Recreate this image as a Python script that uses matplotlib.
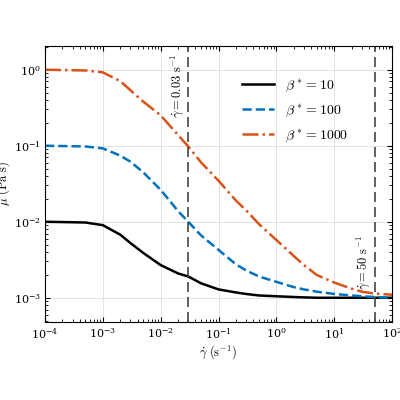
import numpy as np
import matplotlib.pyplot as plt

plt.rcParams['mathtext.fontset'] = 'cm'
plt.rcParams['font.family'] = 'serif'
plt.rcParams['font.serif'] = ['DejaVu Serif']

# shear rate samples and log10 viscosity
gamma = [1e-4, 5e-4, 1e-3, 2e-3, 3e-3, 5e-3, 1e-2, 2e-2, 3e-2, 5e-2, 0.1, 0.2,
         0.3, 0.5, 1, 2, 3, 5, 10, 20, 30, 50, 100]
log_mu_10 = [-2, -2.01, -2.045, -2.17, -2.28, -2.41, -2.57, -2.68, -2.72, -2.81,
             -2.89, -2.93, -2.95, -2.97, -2.98, -2.99, -2.995, -3, -3, -3, -3, -3, -3]
log_mu_100 = [-1, -1.01, -1.035, -1.13, -1.21, -1.35, -1.58, -1.86, -2.0, -2.18,
              -2.37, -2.56, -2.64, -2.72, -2.79, -2.86, -2.89, -2.92, -2.95, -2.97,
              -2.98, -2.99, -3.0]
log_mu_1000 = [0, -0.01, -0.035, -0.15, -0.27, -0.42, -0.6, -0.86, -1.01, -1.22,
               -1.46, -1.72, -1.85, -2.03, -2.24, -2.45, -2.57, -2.7, -2.80, -2.88,
               -2.92, -2.945, -2.96]
markers_at = [0.03, 50]

fig = plt.figure(figsize=(4, 4), dpi=100)
ax = fig.add_axes([0.1125, 0.195, 0.8675, 0.69])

ax.plot(gamma, 10 ** np.array(log_mu_10), color='black', lw=1.8, label=r'$\beta^* = 10$')
ax.plot(gamma, 10 ** np.array(log_mu_100), color='#0072BD', lw=1.8, ls='--',
        label=r'$\beta^* = 100$')
ax.plot(gamma, 10 ** np.array(log_mu_1000), color='#D95319', lw=1.8, ls='-.',
        label=r'$\beta^* = 1000$')

for g in markers_at:
    ax.axvline(g, color='#444444', lw=1.2, ls=(0, (6, 3)))
ax.text(0.027, 1.6, r'$\dot{\gamma} = 0.03\ \mathrm{s}^{-1}$', rotation=90,
        ha='right', va='top', fontsize=9)
ax.text(45, 1.25e-3, r'$\dot{\gamma} = 50\ \mathrm{s}^{-1}$', rotation=90,
        ha='right', va='bottom', fontsize=9)

ax.set_xscale('log')
ax.set_yscale('log')
ax.set_xlim(1e-4, 1e2)
ax.set_ylim(4.8e-4, 2.05e0)
ax.set_xlabel(r'$\dot{\gamma}\ (\mathrm{s}^{-1})$', fontsize=9, labelpad=2)
ax.set_ylabel(r'$\mu\ (\mathrm{Pa\ s})$', fontsize=9, labelpad=1)
ax.tick_params(which='both', direction='in', top=True, right=True, labelsize=8, pad=3)
ax.grid(True, which='major', color='#dddddd', lw=0.6)
ax.legend(loc='upper right', bbox_to_anchor=(0.91, 0.93), frameon=False, fontsize=10,
          handlelength=2.3, labelspacing=0.6)

fig.savefig('out.png')
